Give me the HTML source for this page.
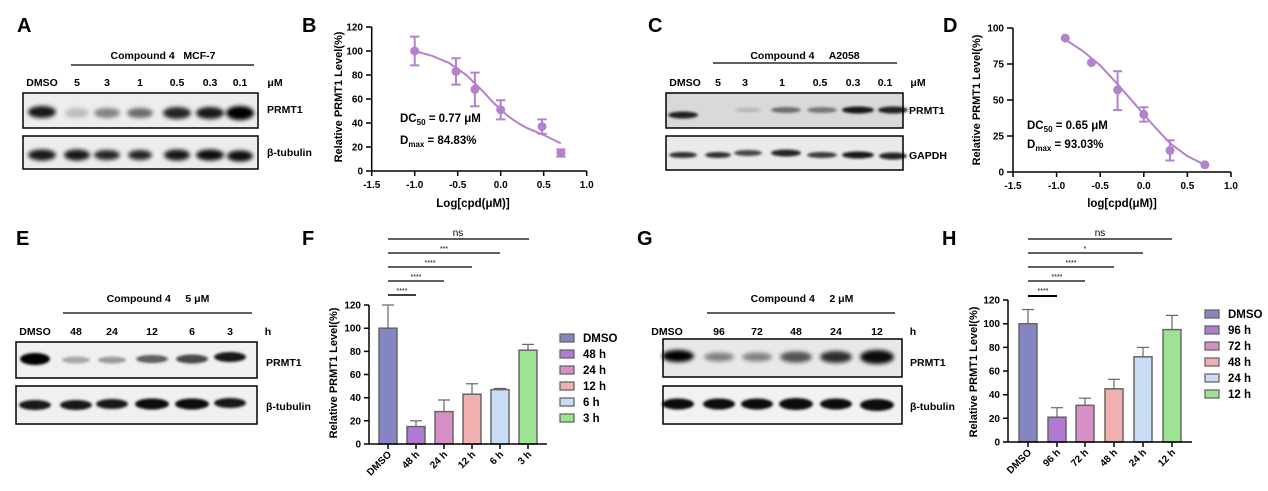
<!DOCTYPE html>
<html><head><meta charset="utf-8"><style>
html,body{margin:0;padding:0;background:#fff;}
svg{display:block;font-family:"Liberation Sans",Arial,sans-serif;font-weight:bold;}
text{white-space:pre;}
</style></head><body>
<svg width="1268" height="491" viewBox="0 0 1268 491" xmlns="http://www.w3.org/2000/svg">
<defs>
<filter id="bl" x="-50%" y="-100%" width="200%" height="300%"><feGaussianBlur stdDeviation="2.2"/></filter>
<filter id="bl2" x="-50%" y="-100%" width="200%" height="300%"><feGaussianBlur stdDeviation="1.2"/></filter>
</defs>
<g font-size="20" fill="#000">
<text x="17" y="32">A</text><text x="302" y="32">B</text><text x="648" y="32">C</text><text x="943" y="32">D</text>
<text x="16" y="245">E</text><text x="302" y="245">F</text><text x="637" y="245">G</text><text x="942" y="245">H</text>
</g>

<!-- Panel A -->
<g font-size="10.5" text-anchor="middle">
<text x="163" y="59">Compound 4   MCF-7</text>
<line x1="71" y1="65" x2="254" y2="65" stroke="#000" stroke-width="1.3"/>
<text x="42" y="86">DMSO</text><text x="77" y="86">5</text><text x="107" y="86">3</text><text x="140" y="86">1</text><text x="177" y="86">0.5</text><text x="210" y="86">0.3</text><text x="240" y="86">0.1</text><text x="275" y="86">μM</text>
</g>
<rect x="23" y="93" width="235" height="35" fill="#ededed" stroke="#000" stroke-width="1.5"/>
<rect x="23" y="136" width="235" height="33" fill="#ededed" stroke="#000" stroke-width="1.5"/>
<g filter="url(#bl)" fill="#000">
<ellipse cx="42" cy="112" rx="14" ry="6" opacity="0.9"/><ellipse cx="77" cy="113" rx="12" ry="5" opacity="0.2"/><ellipse cx="107" cy="113" rx="13" ry="5" opacity="0.45"/><ellipse cx="140" cy="113" rx="13" ry="5" opacity="0.55"/><ellipse cx="177" cy="113" rx="14" ry="6" opacity="0.85"/><ellipse cx="210" cy="113" rx="14" ry="6" opacity="0.9"/><ellipse cx="240" cy="113" rx="14" ry="7" opacity="1"/>
<ellipse cx="42" cy="155" rx="14" ry="5.5" opacity="0.9"/><ellipse cx="77" cy="155" rx="13" ry="5.5" opacity="0.9"/><ellipse cx="107" cy="155" rx="13" ry="5" opacity="0.85"/><ellipse cx="140" cy="155" rx="12" ry="5" opacity="0.85"/><ellipse cx="177" cy="155" rx="13" ry="5.5" opacity="0.9"/><ellipse cx="210" cy="155" rx="14" ry="5.5" opacity="0.95"/><ellipse cx="240" cy="156" rx="13" ry="5.5" opacity="0.95"/>
</g>
<g font-size="10.5"><text x="267" y="113">PRMT1</text><text x="267" y="156">β-tubulin</text></g>

<!-- Panel B -->
<g stroke="#000" stroke-width="1.5" fill="none">
<line x1="371.7" y1="27" x2="371.7" y2="171"/><line x1="371.7" y1="171" x2="586.7" y2="171"/>
<path d="M366 171H371.7M366 147H371.7M366 123H371.7M366 99H371.7M366 75H371.7M366 51H371.7M366 27H371.7"/>
<path d="M371.7 171V176M414.7 171V176M457.7 171V176M500.7 171V176M543.7 171V176M586.7 171V176"/>
</g>
<g font-size="10" text-anchor="end">
<text x="363" y="174.5">0</text><text x="363" y="150.5">20</text><text x="363" y="126.5">40</text><text x="363" y="102.5">60</text><text x="363" y="78.5">80</text><text x="363" y="54.5">100</text><text x="363" y="30.5">120</text>
</g>
<g font-size="10" text-anchor="middle">
<text x="371.7" y="188">-1.5</text><text x="414.7" y="188">-1.0</text><text x="457.7" y="188">-0.5</text><text x="500.7" y="188">0.0</text><text x="543.7" y="188">0.5</text><text x="586.7" y="188">1.0</text>
</g>
<text x="473" y="207" font-size="11.5" text-anchor="middle">Log[cpd(μM)]</text>
<text transform="translate(342,97) rotate(-90)" font-size="11" text-anchor="middle">Relative PRMT1 Level(%)</text>
<polyline fill="none" stroke="#b382cc" stroke-width="2" points="414.7,51 431.9,55.8 449.1,63 466.3,75 474.9,83.4 483.5,91.8 492.1,101.4 500.7,109.8 509.3,117 517.9,123 526.5,127.8 535.1,131.4 543.7,135 560.9,143.4"/>
<g stroke="#b382cc" stroke-width="2" fill="#b382cc">
<path d="M414.7 36.6V65.4M410 36.6H419.4M410 65.4H419.4" fill="none"/><circle cx="414.7" cy="51" r="3.5"/>
<path d="M456 58.2V84.6M451.3 58.2H460.7M451.3 84.6H460.7" fill="none"/><circle cx="456" cy="71.4" r="3.5"/>
<path d="M474.9 72.6V106.2M470.2 72.6H479.6M470.2 106.2H479.6" fill="none"/><circle cx="474.9" cy="89.4" r="3.5"/>
<path d="M500.7 100.2V119.4M496 100.2H505.4M496 119.4H505.4" fill="none"/><circle cx="500.7" cy="109.8" r="3.5"/>
<path d="M542 119.4V133.8M537.3 119.4H546.7M537.3 133.8H546.7" fill="none"/><circle cx="542" cy="126.6" r="3.5"/>
<path d="M560.9 149.4V156.6M556.2 149.4H565.6M556.2 156.6H565.6" fill="none"/><circle cx="560.9" cy="153" r="3.5"/>
</g>
<g font-size="11.5"><text x="400" y="122">DC<tspan font-size="8" dy="3">50</tspan><tspan dy="-3"> = 0.77 μM</tspan></text>
<text x="400" y="144">D<tspan font-size="8" dy="3">max</tspan><tspan dy="-3"> = 84.83%</tspan></text></g>

<!-- Panel C -->
<g font-size="10.5" text-anchor="middle">
<text x="805" y="59">Compound 4     A2058</text>
<line x1="713" y1="63" x2="897" y2="63" stroke="#000" stroke-width="1.3"/>
<text x="685" y="86">DMSO</text><text x="718" y="86">5</text><text x="745" y="86">3</text><text x="782" y="86">1</text><text x="820" y="86">0.5</text><text x="853" y="86">0.3</text><text x="885" y="86">0.1</text><text x="918" y="86">μM</text>
</g>
<rect x="666" y="93" width="237" height="35" fill="#d9d9d9" stroke="#000" stroke-width="1.5"/>
<rect x="666" y="136" width="237" height="34" fill="#eaeaea" stroke="#000" stroke-width="1.5"/>
<g filter="url(#bl2)" fill="#000">
<ellipse cx="683" cy="115" rx="15" ry="3.5" opacity="0.85"/><ellipse cx="748" cy="110" rx="13" ry="2.5" opacity="0.15"/><ellipse cx="786" cy="110" rx="15" ry="3" opacity="0.5"/><ellipse cx="822" cy="110" rx="15" ry="3" opacity="0.45"/><ellipse cx="858" cy="110" rx="16" ry="3.5" opacity="0.9"/><ellipse cx="893" cy="110" rx="15" ry="3.5" opacity="0.85"/>
<ellipse cx="683" cy="155" rx="14" ry="3" opacity="0.8"/><ellipse cx="718" cy="155" rx="13" ry="3" opacity="0.8"/><ellipse cx="748" cy="153" rx="14" ry="3" opacity="0.7"/><ellipse cx="786" cy="153" rx="15" ry="3.5" opacity="0.85"/><ellipse cx="822" cy="155" rx="15" ry="3" opacity="0.75"/><ellipse cx="858" cy="155" rx="16" ry="3.5" opacity="0.9"/><ellipse cx="893" cy="156" rx="14" ry="3.5" opacity="0.85"/>
</g>
<g font-size="10.5"><text x="909" y="114">PRMT1</text><text x="909" y="159">GAPDH</text></g>

<!-- Panel D -->
<g stroke="#000" stroke-width="1.5" fill="none">
<line x1="1013" y1="28" x2="1013" y2="172"/><line x1="1013" y1="172" x2="1231" y2="172"/>
<path d="M1007 172H1013M1007 136H1013M1007 100H1013M1007 64H1013M1007 28H1013"/>
<path d="M1013 172V177M1056.6 172V177M1100.2 172V177M1143.8 172V177M1187.4 172V177M1231 172V177"/>
</g>
<g font-size="10" text-anchor="end">
<text x="1004" y="175.5">0</text><text x="1004" y="139.5">25</text><text x="1004" y="103.5">50</text><text x="1004" y="67.5">75</text><text x="1004" y="31.5">100</text>
</g>
<g font-size="10" text-anchor="middle">
<text x="1013" y="189">-1.5</text><text x="1056.6" y="189">-1.0</text><text x="1100.2" y="189">-0.5</text><text x="1143.8" y="189">0.0</text><text x="1187.4" y="189">0.5</text><text x="1231" y="189">1.0</text>
</g>
<text x="1122" y="207" font-size="11.5" text-anchor="middle">log[cpd(μM)]</text>
<text transform="translate(980,100) rotate(-90)" font-size="11" text-anchor="middle">Relative PRMT1 Level(%)</text>
<polyline fill="none" stroke="#b382cc" stroke-width="2" points="1065.3,39.5 1082.8,51 1100.2,65.4 1117.6,84.2 1135.1,104.3 1143.8,114.4 1152.5,124.5 1170,143.2 1187.4,156.2 1204.9,164.8"/>
<g stroke="#b382cc" stroke-width="2" fill="#b382cc">
<circle cx="1065.3" cy="38.1" r="3.5"/><circle cx="1091.5" cy="62.6" r="3.5"/>
<path d="M1117.6 71.2V110.1M1113 71.2H1122.2M1113 110.1H1122.2" fill="none"/><circle cx="1117.6" cy="89.9" r="3.5"/>
<path d="M1143.8 107.2V121.6M1139.2 107.2H1148.4M1139.2 121.6H1148.4" fill="none"/><circle cx="1143.8" cy="114.4" r="3.5"/>
<path d="M1170 140.3V160.5M1165.4 140.3H1174.6M1165.4 160.5H1174.6" fill="none"/><circle cx="1170" cy="150.4" r="3.5"/>
<circle cx="1204.9" cy="164.8" r="3.5"/>
</g>
<g font-size="11.5"><text x="1027" y="129">DC<tspan font-size="8" dy="3">50</tspan><tspan dy="-3"> = 0.65 μM</tspan></text>
<text x="1027" y="148">D<tspan font-size="8" dy="3">max</tspan><tspan dy="-3"> = 93.03%</tspan></text></g>

<!-- Panel E -->
<g font-size="10.5" text-anchor="middle">
<text x="158" y="302">Compound 4     5 μM</text>
<line x1="63" y1="313" x2="252" y2="313" stroke="#000" stroke-width="1.3"/>
<text x="35" y="335">DMSO</text><text x="76" y="335">48</text><text x="112" y="335">24</text><text x="152" y="335">12</text><text x="192" y="335">6</text><text x="230" y="335">3</text><text x="268" y="335">h</text>
</g>
<rect x="16" y="342" width="241" height="36" fill="#f0f0f0" stroke="#000" stroke-width="1.5"/>
<rect x="16" y="386" width="241" height="38" fill="#f0f0f0" stroke="#000" stroke-width="1.5"/>
<g filter="url(#bl2)" fill="#000">
<ellipse cx="35" cy="359" rx="15" ry="6" opacity="1"/><ellipse cx="76" cy="360" rx="14" ry="3.5" opacity="0.3"/><ellipse cx="112" cy="360" rx="14" ry="3.5" opacity="0.35"/><ellipse cx="152" cy="359" rx="16" ry="4" opacity="0.6"/><ellipse cx="192" cy="359" rx="16" ry="4.5" opacity="0.7"/><ellipse cx="230" cy="357" rx="16" ry="5" opacity="0.9"/>
<ellipse cx="35" cy="405" rx="16" ry="5" opacity="0.9"/><ellipse cx="76" cy="405" rx="16" ry="5" opacity="0.9"/><ellipse cx="112" cy="404" rx="16" ry="5" opacity="0.9"/><ellipse cx="152" cy="404" rx="17" ry="5.5" opacity="0.95"/><ellipse cx="192" cy="404" rx="17" ry="5.5" opacity="0.95"/><ellipse cx="230" cy="403" rx="16" ry="5" opacity="0.9"/>
</g>
<g font-size="10.5"><text x="266" y="366">PRMT1</text><text x="266" y="410">β-tubulin</text></g>

<!-- Panel F -->
<g stroke="#000" stroke-width="1.2">
<line x1="388" y1="239" x2="529" y2="239"/><line x1="388" y1="253" x2="500" y2="253"/><line x1="388" y1="267" x2="472" y2="267"/><line x1="388" y1="281" x2="444" y2="281"/><line x1="388" y1="295" x2="416" y2="295" stroke-width="1.6"/>
</g>
<g font-size="7" text-anchor="middle" font-weight="normal">
<text x="458" y="236" font-size="10">ns</text><text x="444" y="251">***</text><text x="430" y="265">****</text><text x="416" y="279">****</text><text x="402" y="293">****</text>
</g>
<g stroke="#666" stroke-width="1.2">
<line x1="388" y1="305" x2="388" y2="328.2"/><line x1="382" y1="305" x2="394" y2="305"/>
<line x1="416" y1="420.8" x2="416" y2="426.6"/><line x1="410" y1="420.8" x2="422" y2="420.8"/>
<line x1="444" y1="400" x2="444" y2="411.6"/><line x1="438" y1="400" x2="450" y2="400"/>
<line x1="472" y1="383.8" x2="472" y2="394.2"/><line x1="466" y1="383.8" x2="478" y2="383.8"/>
<line x1="494" y1="388.4" x2="506" y2="388.4"/>
<line x1="528" y1="344.4" x2="528" y2="350.2"/><line x1="522" y1="344.4" x2="534" y2="344.4"/>
</g>
<g stroke="#666" stroke-width="1.5">
<rect x="379" y="328.2" width="18" height="115.8" fill="#8585c4"/>
<rect x="407" y="426.6" width="18" height="17.4" fill="#b07ad2"/>
<rect x="435" y="411.6" width="18" height="32.4" fill="#d690c6"/>
<rect x="463" y="394.2" width="18" height="49.8" fill="#f0b0b0"/>
<rect x="491" y="389.6" width="18" height="54.4" fill="#c8dcf4"/>
<rect x="519" y="350.2" width="18" height="93.8" fill="#9ee394"/>
</g>
<g stroke="#000" stroke-width="1.5" fill="none">
<line x1="369" y1="305" x2="369" y2="444"/><line x1="369" y1="444" x2="547" y2="444"/>
<path d="M364 444H369M364 420.8H369M364 397.7H369M364 374.5H369M364 351.4H369M364 328.2H369M364 305H369"/>
<path d="M388 444V449M416 444V449M444 444V449M472 444V449M500 444V449M528 444V449"/>
</g>
<g font-size="10" text-anchor="end">
<text x="361" y="447.5">0</text><text x="361" y="424.3">20</text><text x="361" y="401.2">40</text><text x="361" y="378">60</text><text x="361" y="354.9">80</text><text x="361" y="331.7">100</text><text x="361" y="308.5">120</text>
<text transform="translate(392,455) rotate(-45)">DMSO</text><text transform="translate(420,455) rotate(-45)">48 h</text><text transform="translate(448,455) rotate(-45)">24 h</text><text transform="translate(476,455) rotate(-45)">12 h</text><text transform="translate(504,455) rotate(-45)">6 h</text><text transform="translate(532,455) rotate(-45)">3 h</text>
</g>
<text transform="translate(337,373) rotate(-90)" font-size="11" text-anchor="middle">Relative PRMT1 Level(%)</text>
<g stroke="#666" stroke-width="1.3">
<rect x="560" y="334" width="14" height="8" fill="#8585c4"/><rect x="560" y="350" width="14" height="8" fill="#b07ad2"/><rect x="560" y="366" width="14" height="8" fill="#d690c6"/><rect x="560" y="382" width="14" height="8" fill="#f0b0b0"/><rect x="560" y="398" width="14" height="8" fill="#c8dcf4"/><rect x="560" y="414" width="14" height="8" fill="#9ee394"/>
</g>
<g font-size="11.5"><text x="583" y="342">DMSO</text><text x="583" y="358">48 h</text><text x="583" y="374">24 h</text><text x="583" y="390">12 h</text><text x="583" y="406">6 h</text><text x="583" y="422">3 h</text></g>

<!-- Panel G -->
<g font-size="10.5" text-anchor="middle">
<text x="802" y="302">Compound 4     2 μM</text>
<line x1="707" y1="313" x2="895" y2="313" stroke="#000" stroke-width="1.3"/>
<text x="667" y="335">DMSO</text><text x="719" y="335">96</text><text x="757" y="335">72</text><text x="796" y="335">48</text><text x="836" y="335">24</text><text x="877" y="335">12</text><text x="913" y="335">h</text>
</g>
<rect x="663" y="339" width="239" height="38" fill="#e8e8e8" stroke="#000" stroke-width="1.5"/>
<rect x="663" y="386" width="239" height="38" fill="#f2f2f2" stroke="#000" stroke-width="1.5"/>
<g filter="url(#bl)" fill="#000">
<ellipse cx="678" cy="356" rx="16" ry="6" opacity="1"/><ellipse cx="719" cy="357" rx="15" ry="4.5" opacity="0.45"/><ellipse cx="757" cy="357" rx="15" ry="4.5" opacity="0.45"/><ellipse cx="796" cy="357" rx="16" ry="5.5" opacity="0.65"/><ellipse cx="836" cy="357" rx="16" ry="6" opacity="0.8"/><ellipse cx="877" cy="357" rx="17" ry="7" opacity="0.95"/>
</g>
<g filter="url(#bl2)" fill="#000">
<ellipse cx="678" cy="404" rx="16" ry="5.5" opacity="0.95"/><ellipse cx="719" cy="404" rx="16" ry="5.5" opacity="0.95"/><ellipse cx="757" cy="404" rx="16" ry="5.5" opacity="0.95"/><ellipse cx="796" cy="404" rx="17" ry="6" opacity="0.95"/><ellipse cx="836" cy="404" rx="16" ry="5.5" opacity="0.95"/><ellipse cx="877" cy="405" rx="17" ry="6" opacity="0.95"/>
</g>
<g font-size="10.5"><text x="910" y="366">PRMT1</text><text x="910" y="410">β-tubulin</text></g>

<!-- Panel H -->
<g stroke="#000" stroke-width="1.2">
<line x1="1028" y1="239" x2="1172" y2="239"/><line x1="1028" y1="253" x2="1143" y2="253"/><line x1="1028" y1="267" x2="1114" y2="267"/><line x1="1028" y1="281" x2="1085" y2="281"/><line x1="1028" y1="296" x2="1057" y2="296" stroke-width="2"/>
</g>
<g font-size="7" text-anchor="middle" font-weight="normal">
<text x="1100" y="236" font-size="10">ns</text><text x="1085" y="251">*</text><text x="1071" y="265">****</text><text x="1057" y="279">****</text><text x="1043" y="293">****</text>
</g>
<g stroke="#666" stroke-width="1.2">
<line x1="1028" y1="309.5" x2="1028" y2="323.7"/><line x1="1022" y1="309.5" x2="1034" y2="309.5"/>
<line x1="1057" y1="407.7" x2="1057" y2="417.2"/><line x1="1051" y1="407.7" x2="1063" y2="407.7"/>
<line x1="1085" y1="398.2" x2="1085" y2="405.3"/><line x1="1079" y1="398.2" x2="1091" y2="398.2"/>
<line x1="1114" y1="379.3" x2="1114" y2="388.8"/><line x1="1108" y1="379.3" x2="1120" y2="379.3"/>
<line x1="1143" y1="347.4" x2="1143" y2="356.8"/><line x1="1137" y1="347.4" x2="1149" y2="347.4"/>
<line x1="1172" y1="315.4" x2="1172" y2="329.6"/><line x1="1166" y1="315.4" x2="1178" y2="315.4"/>
</g>
<g stroke="#666" stroke-width="1.5">
<rect x="1019" y="323.7" width="18" height="118.3" fill="#8585c4"/>
<rect x="1048" y="417.2" width="18" height="24.8" fill="#b07ad2"/>
<rect x="1076" y="405.3" width="18" height="36.7" fill="#d690c6"/>
<rect x="1105" y="388.8" width="18" height="53.2" fill="#f0b0b0"/>
<rect x="1134" y="356.8" width="18" height="85.2" fill="#c8dcf4"/>
<rect x="1163" y="329.6" width="18" height="112.4" fill="#9ee394"/>
</g>
<g stroke="#000" stroke-width="1.5" fill="none">
<line x1="1008" y1="300" x2="1008" y2="442"/><line x1="1008" y1="442" x2="1192" y2="442"/>
<path d="M1003 442H1008M1003 418.3H1008M1003 394.7H1008M1003 371H1008M1003 347.4H1008M1003 323.7H1008M1003 300H1008"/>
<path d="M1028 442V447M1057 442V447M1085 442V447M1114 442V447M1143 442V447M1172 442V447"/>
</g>
<g font-size="10" text-anchor="end">
<text x="1000" y="445.5">0</text><text x="1000" y="421.8">20</text><text x="1000" y="398.2">40</text><text x="1000" y="374.5">60</text><text x="1000" y="350.9">80</text><text x="1000" y="327.2">100</text><text x="1000" y="303.5">120</text>
<text transform="translate(1032,453) rotate(-45)">DMSO</text><text transform="translate(1061,453) rotate(-45)">96 h</text><text transform="translate(1089,453) rotate(-45)">72 h</text><text transform="translate(1118,453) rotate(-45)">48 h</text><text transform="translate(1147,453) rotate(-45)">24 h</text><text transform="translate(1176,453) rotate(-45)">12 h</text>
</g>
<text transform="translate(977,372) rotate(-90)" font-size="11" text-anchor="middle">Relative PRMT1 Level(%)</text>
<g stroke="#666" stroke-width="1.3">
<rect x="1205" y="310" width="14" height="8" fill="#8585c4"/><rect x="1205" y="326" width="14" height="8" fill="#b07ad2"/><rect x="1205" y="342" width="14" height="8" fill="#d690c6"/><rect x="1205" y="358" width="14" height="8" fill="#f0b0b0"/><rect x="1205" y="374" width="14" height="8" fill="#c8dcf4"/><rect x="1205" y="390" width="14" height="8" fill="#9ee394"/>
</g>
<g font-size="11.5"><text x="1228" y="318">DMSO</text><text x="1228" y="334">96 h</text><text x="1228" y="350">72 h</text><text x="1228" y="366">48 h</text><text x="1228" y="382">24 h</text><text x="1228" y="398">12 h</text></g>
</svg>
</body></html>
